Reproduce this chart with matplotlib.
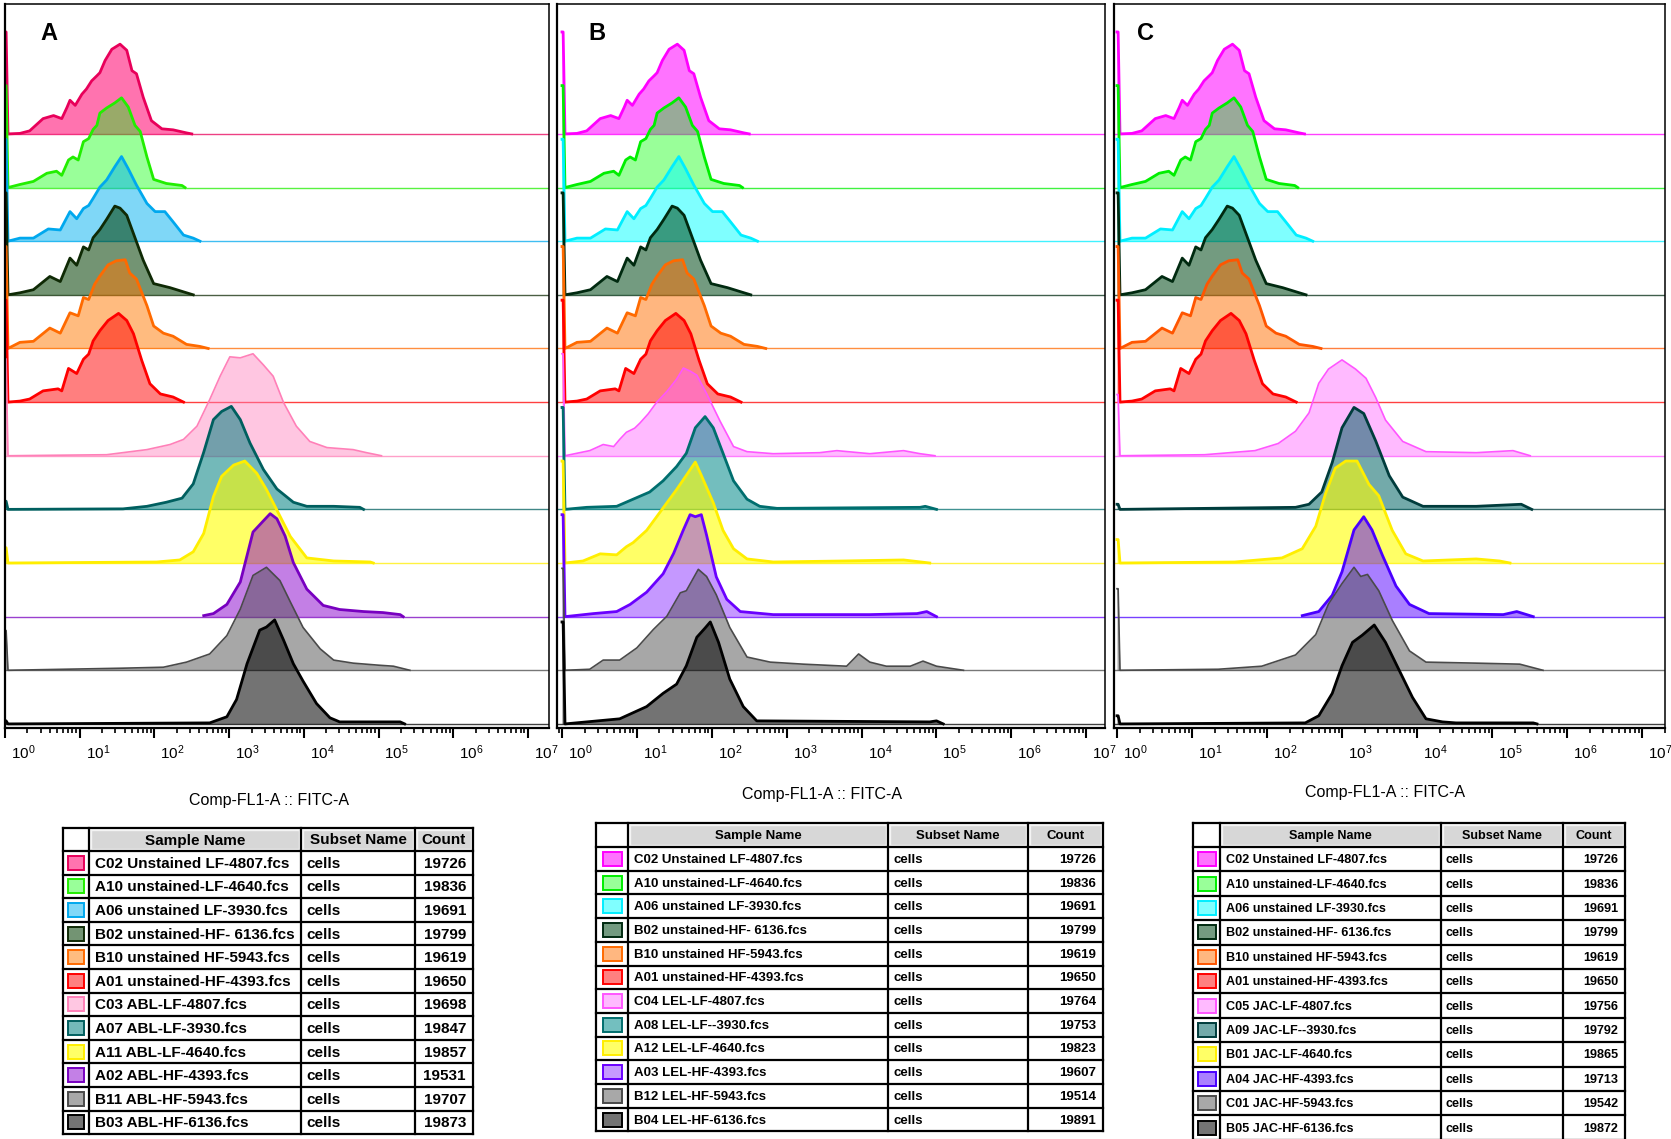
import numpy as np
import matplotlib
matplotlib.use('Agg')
import matplotlib.pyplot as plt
import matplotlib.colors as mcolors
from matplotlib.patches import Rectangle
from matplotlib.ticker import LogLocator, NullFormatter
from matplotlib.transforms import offset_copy

plt.rcParams['font.family'] = ['Liberation Sans', 'DejaVu Sans']
plt.rcParams['mathtext.fontset'] = 'custom'
plt.rcParams['mathtext.rm'] = 'Liberation Sans'
plt.rcParams['mathtext.default'] = 'regular'

W, H = 1671, 1139
OFF = 52.6   # offset between stacked histograms, in % of mode

# ---- unstained samples (same files in all three panels) ----
# x = log10(Comp-FL1-A), h = % of mode
x_c02 = [0.0, 0.015, 0.04, 0.20, 0.33, 0.51, 0.65, 0.76, 0.83, 0.87, 0.94, 1.03, 1.09, 1.16, 1.23, 1.27,
         1.34, 1.43, 1.54, 1.63, 1.70, 1.76, 1.85, 1.96, 2.10, 2.25, 2.43, 2.50]
h_c02 = [100, 100, 0, 0.5, 3, 15, 18, 15, 26, 33, 28, 39, 44, 52, 57, 60, 72, 83, 88, 82, 62, 59, 36, 13,
         5, 4, 1, 0]
x_a10 = [0.0, 0.015, 0.04, 0.20, 0.38, 0.56, 0.69, 0.76, 0.85, 0.91, 0.98, 1.05, 1.12, 1.18, 1.23, 1.27,
         1.36, 1.47, 1.56, 1.65, 1.74, 1.81, 1.90, 1.99, 2.16, 2.37, 2.41]
h_a10 = [100, 100, 0, 3, 6, 14, 16, 12, 27, 30, 27, 45, 48, 57, 61, 73, 78, 83, 88, 79, 61, 55, 30, 8, 4, 2, 0]
x_a06 = [0.0, 0.015, 0.04, 0.20, 0.38, 0.58, 0.74, 0.87, 0.96, 1.05, 1.12, 1.18, 1.27, 1.36, 1.47, 1.56,
         1.65, 1.76, 1.90, 2.01, 2.14, 2.25, 2.39, 2.52, 2.61]
h_a06 = [100, 100, 0, 3, 3, 12, 11, 29, 22, 32, 35, 42, 53, 60, 73, 83, 71, 55, 37, 29, 29, 19, 6, 3, 0]
x_b02 = [0.0, 0.015, 0.04, 0.20, 0.38, 0.60, 0.74, 0.87, 0.96, 1.05, 1.12, 1.18, 1.27, 1.36, 1.47, 1.54,
         1.63, 1.72, 1.85, 1.99, 2.21, 2.43, 2.52]
h_b02 = [100, 100, 0, 2, 5, 18, 13, 36, 29, 47, 44, 56, 64, 74, 87, 85, 78, 60, 34, 11, 7, 2, 0]
x_b10 = [0.0, 0.015, 0.04, 0.20, 0.38, 0.60, 0.74, 0.87, 0.98, 1.05, 1.12, 1.20, 1.27, 1.38, 1.49, 1.61,
         1.67, 1.76, 1.90, 1.99, 2.12, 2.25, 2.43, 2.61, 2.72]
h_b10 = [100, 100, 0, 6, 7, 20, 15, 35, 32, 50, 48, 63, 71, 82, 86, 87, 74, 68, 42, 22, 15, 12, 4, 2, 0]
x_a01 = [0.0, 0.015, 0.04, 0.20, 0.33, 0.51, 0.71, 0.76, 0.85, 0.96, 1.05, 1.12, 1.18, 1.27, 1.38, 1.52,
         1.63, 1.72, 1.83, 1.94, 2.08, 2.25, 2.39]
h_a01 = [100, 100, 0, 1, 3, 11, 13, 11, 33, 28, 42, 47, 60, 70, 80, 87, 80, 67, 41, 18, 8, 5, 0]

# ---- panel A: ABL stained ----
x_c03 = [0.0, 0.015, 0.04, 1.36, 1.90, 2.21, 2.39, 2.57, 2.74, 2.88, 3.01, 3.15, 3.32, 3.46, 3.59, 3.73,
         3.90, 4.08, 4.31, 4.66, 4.84, 5.04]
h_c03 = [95, 95, 0, 1, 6, 11, 16, 29, 55, 78, 97, 96, 100, 89, 78, 52, 29, 14, 8, 6, 3, 0]
x_a07 = [0.0, 0.015, 0.04, 1.58, 1.90, 2.16, 2.37, 2.52, 2.66, 2.79, 2.90, 3.03, 3.15, 3.28, 3.46, 3.64,
         3.86, 4.04, 4.40, 4.75, 4.80]
h_a07 = [8, 8, 0, 0.5, 3, 7, 11, 25, 56, 88, 96, 101, 88, 65, 39, 20, 7, 3, 3, 2, 0]
x_a11 = [0.0, 0.015, 0.04, 2.03, 2.34, 2.52, 2.66, 2.79, 2.90, 3.06, 3.21, 3.37, 3.50, 3.66, 3.82, 4.04,
         4.40, 4.89, 4.93]
h_a11 = [15, 15, 0, 1, 3, 11, 29, 65, 85, 96, 100, 88, 72, 49, 26, 5, 2, 1, 0]
x_a02 = [2.66, 2.79, 2.97, 3.15, 3.32, 3.46, 3.55, 3.64, 3.75, 3.86, 4.04, 4.26, 4.48, 4.80, 5.06, 5.29, 5.33]
h_a02 = [1, 3, 12, 34, 83, 94, 101, 96, 79, 53, 27, 11, 7, 5, 4, 2, 0]
x_b11 = [0.0, 0.015, 0.04, 1.54, 2.12, 2.43, 2.74, 2.97, 3.15, 3.32, 3.50, 3.68, 3.82, 3.99, 4.22, 4.40,
         4.66, 5.00, 5.20, 5.42]
h_b11 = [39, 39, 0, 2, 3, 8, 16, 34, 60, 93, 101, 88, 67, 42, 21, 10, 7, 5, 4, 0]
x_b03 = [0.0, 0.015, 0.04, 2.74, 2.97, 3.10, 3.24, 3.41, 3.50, 3.61, 3.73, 3.86, 3.99, 4.17, 4.35, 4.48,
         5.29, 5.35]
h_b03 = [3, 3, 0, 1, 7, 24, 59, 92, 95, 102, 82, 59, 42, 20, 6, 2, 2, 0]

# ---- panel B: LEL stained ----
x_c04 = [0.0, 0.015, 0.04, 0.37, 0.55, 0.69, 0.77, 0.86, 0.97, 1.04, 1.15, 1.26, 1.40, 1.53, 1.62, 1.71,
         1.80, 1.93, 2.11, 2.29, 2.47, 2.82, 3.44, 3.67, 4.11, 4.56, 4.78, 4.98]
h_c04 = [100, 100, 0, 5, 11, 9, 16, 23, 27, 32, 41, 52, 63, 75, 86, 83, 79, 61, 34, 9, 4, 2, 3, 5, 2, 5, 2, 0]
x_a08 = [0.0, 0.015, 0.04, 0.33, 0.73, 0.95, 1.17, 1.35, 1.53, 1.66, 1.78, 1.91, 2.02, 2.15, 2.29, 2.47,
         2.64, 2.87, 4.78, 4.85, 5.00]
h_a08 = [100, 100, 0, 2, 3, 10, 17, 28, 42, 55, 80, 91, 80, 55, 28, 10, 3, 1, 2, 3, 0]
x_a12 = [0.0, 0.015, 0.04, 0.28, 0.51, 0.73, 0.86, 0.95, 1.13, 1.26, 1.40, 1.53, 1.66, 1.78, 1.86, 2.02,
         2.15, 2.29, 2.47, 2.82, 3.76, 4.56, 4.91]
h_a12 = [100, 100, 0, 2, 9, 8, 16, 20, 32, 45, 59, 72, 86, 99, 86, 59, 32, 14, 4, 1, 2, 3, 0]
x_a03 = [0.0, 0.015, 0.04, 0.42, 0.73, 0.91, 1.13, 1.35, 1.49, 1.62, 1.71, 1.78, 1.86, 1.93, 2.06, 2.20,
         2.38, 2.82, 4.11, 4.74, 4.87, 5.00]
h_a03 = [100, 100, 0, 3, 5, 12, 24, 42, 62, 85, 100, 98, 100, 80, 39, 17, 5, 2, 2, 3, 5, 0]
x_b12 = [0.0, 0.015, 0.04, 0.37, 0.55, 0.77, 1.00, 1.22, 1.40, 1.58, 1.66, 1.82, 1.93, 2.06, 2.24, 2.47,
         2.78, 3.22, 3.80, 3.96, 4.11, 4.33, 4.65, 4.82, 5.00, 5.36]
h_b12 = [100, 100, 0, 1, 10, 10, 22, 40, 53, 76, 78, 99, 92, 74, 42, 13, 8, 6, 4, 16, 8, 4, 4, 9, 4, 0]
x_b04 = [0.0, 0.015, 0.04, 0.77, 1.13, 1.35, 1.53, 1.66, 1.80, 1.91, 1.98, 2.09, 2.24, 2.42, 2.60, 4.91,
         5.00, 5.09]
h_b04 = [100, 100, 0, 5, 17, 30, 39, 57, 85, 94, 100, 80, 44, 17, 3, 2, 3, 0]

# ---- panel C: JAC stained ----
x_c05 = [0.0, 0.015, 0.04, 1.17, 1.84, 2.15, 2.38, 2.56, 2.69, 2.82, 3.00, 3.18, 3.32, 3.45, 3.58, 3.81,
         4.12, 4.79, 5.28, 5.51]
h_c05 = [60, 60, 0, 1, 5, 12, 24, 42, 71, 85, 94, 85, 76, 57, 35, 14, 4, 3, 5, 0]
x_a09 = [0.0, 0.015, 0.04, 2.38, 2.56, 2.73, 2.87, 3.00, 3.16, 3.29, 3.45, 3.63, 3.81, 4.08, 4.79, 5.39, 5.53]
h_a09 = [5, 5, 0, 2, 5, 17, 46, 80, 100, 94, 67, 33, 12, 3, 3, 5, 0]
x_b01 = [0.0, 0.015, 0.04, 1.57, 2.20, 2.47, 2.65, 2.78, 2.91, 3.05, 3.20, 3.36, 3.49, 3.67, 3.85, 4.08,
         4.79, 5.10, 5.24]
h_b01 = [23, 23, 0, 1, 5, 14, 36, 68, 93, 100, 100, 77, 66, 32, 9, 2, 4, 2, 0]
x_a04 = [2.47, 2.69, 2.87, 3.00, 3.16, 3.29, 3.40, 3.54, 3.72, 3.90, 4.16, 5.15, 5.33, 5.55]
h_a04 = [1, 5, 21, 44, 85, 98, 85, 60, 30, 12, 3, 2, 5, 0]
x_c01 = [0.0, 0.015, 0.04, 1.35, 1.93, 2.38, 2.65, 2.82, 3.00, 3.16, 3.25, 3.34, 3.49, 3.67, 3.90, 4.12,
         4.79, 5.37, 5.68]
h_c01 = [80, 80, 0, 1, 4, 15, 35, 65, 85, 101, 92, 94, 78, 49, 19, 8, 7, 6, 0]
x_b05 = [0.0, 0.015, 0.04, 2.51, 2.69, 2.87, 3.00, 3.14, 3.27, 3.43, 3.58, 3.76, 3.94, 4.12, 4.34, 4.52,
         5.55, 5.60]
h_b05 = [8, 8, 0, 1, 8, 30, 57, 80, 87, 97, 80, 53, 26, 5, 2, 1, 1, 0]

# ---- table contents ----
unst_names = ['C02 Unstained LF-4807.fcs', 'A10 unstained-LF-4640.fcs', 'A06 unstained LF-3930.fcs',
              'B02 unstained-HF- 6136.fcs', 'B10 unstained HF-5943.fcs', 'A01 unstained-HF-4393.fcs']
names_a = unst_names + ['C03 ABL-LF-4807.fcs', 'A07 ABL-LF-3930.fcs', 'A11 ABL-LF-4640.fcs',
                        'A02 ABL-HF-4393.fcs', 'B11 ABL-HF-5943.fcs', 'B03 ABL-HF-6136.fcs']
names_b = unst_names + ['C04 LEL-LF-4807.fcs', 'A08 LEL-LF--3930.fcs', 'A12 LEL-LF-4640.fcs',
                        'A03 LEL-HF-4393.fcs', 'B12 LEL-HF-5943.fcs', 'B04 LEL-HF-6136.fcs']
names_c = unst_names + ['C05 JAC-LF-4807.fcs', 'A09 JAC-LF--3930.fcs', 'B01 JAC-LF-4640.fcs',
                        'A04 JAC-HF-4393.fcs', 'C01 JAC-HF-5943.fcs', 'B05 JAC-HF-6136.fcs']
counts_a = [19726, 19836, 19691, 19799, 19619, 19650, 19698, 19847, 19857, 19531, 19707, 19873]
counts_b = [19726, 19836, 19691, 19799, 19619, 19650, 19764, 19753, 19823, 19607, 19514, 19891]
counts_c = [19726, 19836, 19691, 19799, 19619, 19650, 19756, 19792, 19865, 19713, 19542, 19872]

unst_x = [x_c02, x_a10, x_a06, x_b02, x_b10, x_a01]
unst_h = [h_c02, h_a10, h_a06, h_b02, h_b10, h_a01]
curves_x = [unst_x + [x_c03, x_a07, x_a11, x_a02, x_b11, x_b03],
            unst_x + [x_c04, x_a08, x_a12, x_a03, x_b12, x_b04],
            unst_x + [x_c05, x_a09, x_b01, x_a04, x_c01, x_b05]]
curves_h = [unst_h + [h_c03, h_a07, h_a11, h_a02, h_b11, h_b03],
            unst_h + [h_c04, h_a08, h_a12, h_a03, h_b12, h_b04],
            unst_h + [h_c05, h_a09, h_b01, h_a04, h_c01, h_b05]]

# ---- styling ----
line_cols = [
    ['#e8005a', '#22ee00', '#00a8ee', '#0f2a05', '#ff6a00', '#ff0000',
     '#ff80b8', '#005f5f', '#ffee00', '#7800c0', '#4a4a4a', '#000000'],
    ['#ff00ff', '#00ee00', '#00eeff', '#002a10', '#ff6a00', '#ff0000',
     '#ff55ff', '#006e6e', '#ffee00', '#6a00ff', '#4a4a4a', '#000000'],
    ['#ff00ff', '#00ee00', '#00eeff', '#002a10', '#ff5500', '#ff0000',
     '#ff55ff', '#003c3c', '#ffee00', '#4a00ff', '#4a4a4a', '#000000']]
fill_cols = [
    ['#ff006e', '#00ff00', '#00b0f0', '#003c00', '#ff7800', '#ff0000',
     '#ff82be', '#008080', '#ffff00', '#8800cc', '#505050', '#000000'],
    ['#ff00ff', '#00ff00', '#00ffff', '#004a18', '#ff6e00', '#ff0000',
     '#ff66ff', '#008a8a', '#ffff00', '#8c32ff', '#505050', '#000000'],
    ['#ff00ff', '#00ff00', '#00ffff', '#004a18', '#ff6e00', '#ff0000',
     '#ff66ff', '#006464', '#ffff00', '#5500ff', '#505050', '#000000']]
alphas = [0.55, 0.4, 0.5, 0.55, 0.5, 0.5, 0.45, 0.55, 0.6, 0.5, 0.5, 0.55]
lws = [2.0, 2.0, 2.0, 2.0, 2.0, 2.0, 1.2, 2.0, 2.0, 2.0, 1.2, 2.0]

panel_l = [5, 557, 1114]
panel_r = [549, 1105, 1665]
zero_px = [5, 562, 1117]
dec_px = [74.7, 74.9, 75.0]
ax_top, ax_bot = 4, 728
letters = ['A', 'B', 'C']
letter_x = [49, 597, 1145]
label_x = [269, 822, 1385]
label_y = [801, 795, 793]


def on_white(c, a):
    rgb = np.array(mcolors.to_rgb(c))
    return tuple(1 - a + a * rgb)


fig = plt.figure(figsize=(W / 100, H / 100), dpi=100)
ov = fig.add_axes([0, 0, 1, 1])
ov.set_xlim(0, W)
ov.set_ylim(H, 0)
ov.axis('off')
ov.set_zorder(10)

for p in range(3):
    l, r = panel_l[p], panel_r[p]
    ax = fig.add_axes([l / W, 1 - ax_bot / H, (r - l) / W, (ax_bot - ax_top) / H])
    lo = (l - zero_px[p]) / dec_px[p]
    hi = (r - zero_px[p]) / dec_px[p]
    xmin, xmax = 10 ** lo, 10 ** hi
    ax.set_xscale('log')
    ax.set_xlim(xmin, xmax)
    ax.set_ylim(-4, 706)

    for k in range(12):
        base = (11 - k) * OFF
        x = 10 ** np.array(curves_x[p][k])
        y = base + np.array(curves_h[p][k], dtype=float)
        z = 2 + k
        ax.plot([xmin, xmax], [base, base], color=line_cols[p][k], lw=1.0, alpha=0.75,
                zorder=z, solid_capstyle='butt')
        ax.fill_between(x, base, y, color=fill_cols[p][k], alpha=alphas[k], lw=0, zorder=z + 0.1)
        ax.plot(x, y, color=line_cols[p][k], lw=lws[k], zorder=z + 0.2, solid_joinstyle='round')

    ax.xaxis.set_major_locator(LogLocator(base=10, numticks=20))
    ax.xaxis.set_minor_locator(LogLocator(base=10, subs=np.arange(2, 10), numticks=200))
    ax.xaxis.set_minor_formatter(NullFormatter())
    ax.tick_params(axis='x', which='major', direction='out', length=7, width=1.5,
                   labelbottom=False)
    ax.tick_params(axis='x', which='minor', direction='out', length=3.5, width=1.2)
    ax.tick_params(axis='y', left=False, labelleft=False)
    for s in ['left', 'bottom']:
        ax.spines[s].set_linewidth(1.6)
    for s in ['top', 'right']:
        ax.spines[s].set_linewidth(1.1)
    for s in ax.spines.values():
        s.set_zorder(50)

    trans = offset_copy(ax.get_xaxis_transform(), fig=fig, x=6, y=-15, units='dots')
    for n in range(8):
        ax.text(10 ** n, 0, '$10^{%d}$' % n, transform=trans, ha='left', va='top',
                fontsize=11, clip_on=False)

    ov.text(letter_x[p], 33, letters[p], ha='center', va='center', fontsize=17, fontweight='bold')
    ov.text(label_x[p], label_y[p], 'Comp-FL1-A :: FITC-A', ha='center', va='center', fontsize=11.5)


def draw_table(ax, cols, top, hh, rh, names, counts, lc, fc, fs, sw):
    n = len(names)
    bottom = top + hh + n * rh
    for j in range(1, 4):
        ax.add_patch(Rectangle((cols[j] + 2, top + 2), cols[j + 1] - cols[j] - 4, hh - 4,
                               facecolor='#d7d7d7', edgecolor='#f4f4f4', lw=1.0))
    for j, t in enumerate(['Sample Name', 'Subset Name', 'Count']):
        ax.text((cols[j + 1] + cols[j + 2]) / 2, top + hh / 2 + 1, t, ha='center', va='center',
                fontsize=fs, fontweight='bold')
    for i in range(n):
        yc = top + hh + (i + 0.5) * rh
        xc = (cols[0] + cols[1]) / 2
        ax.add_patch(Rectangle((xc - sw / 2, yc - 7), sw, 14, facecolor=on_white(fc[i], alphas[i]),
                               edgecolor=lc[i], lw=1.4))
        ax.text(cols[1] + 6, yc + 1, names[i], ha='left', va='center', fontsize=fs, fontweight='bold')
        ax.text(cols[2] + 5, yc + 1, 'cells', ha='left', va='center', fontsize=fs, fontweight='bold')
        ax.text(cols[4] - 7, yc + 1, str(counts[i]), ha='right', va='center', fontsize=fs,
                fontweight='bold')
    for c in cols:
        ax.plot([c, c], [top, bottom], color='black', lw=1.6, solid_capstyle='projecting')
    ys = [top, top + hh] + [top + hh + (i + 1) * rh for i in range(n)]
    for y in ys:
        ax.plot([cols[0], cols[-1]], [y, y], color='black', lw=1.6, solid_capstyle='projecting')


draw_table(ov, [63, 89, 301, 415, 473], 828, 23, 23.6, names_a, counts_a,
           line_cols[0], fill_cols[0], 11, 16)
draw_table(ov, [596, 628, 888, 1028, 1103], 823, 24, 23.7, names_b, counts_b,
           line_cols[1], fill_cols[1], 9.5, 19)
draw_table(ov, [1193, 1220, 1441, 1563, 1625], 823, 24, 24.4, names_c, counts_c,
           line_cols[2], fill_cols[2], 9.1, 18)

fig.savefig('out.png', dpi=100)
plt.close('all')
